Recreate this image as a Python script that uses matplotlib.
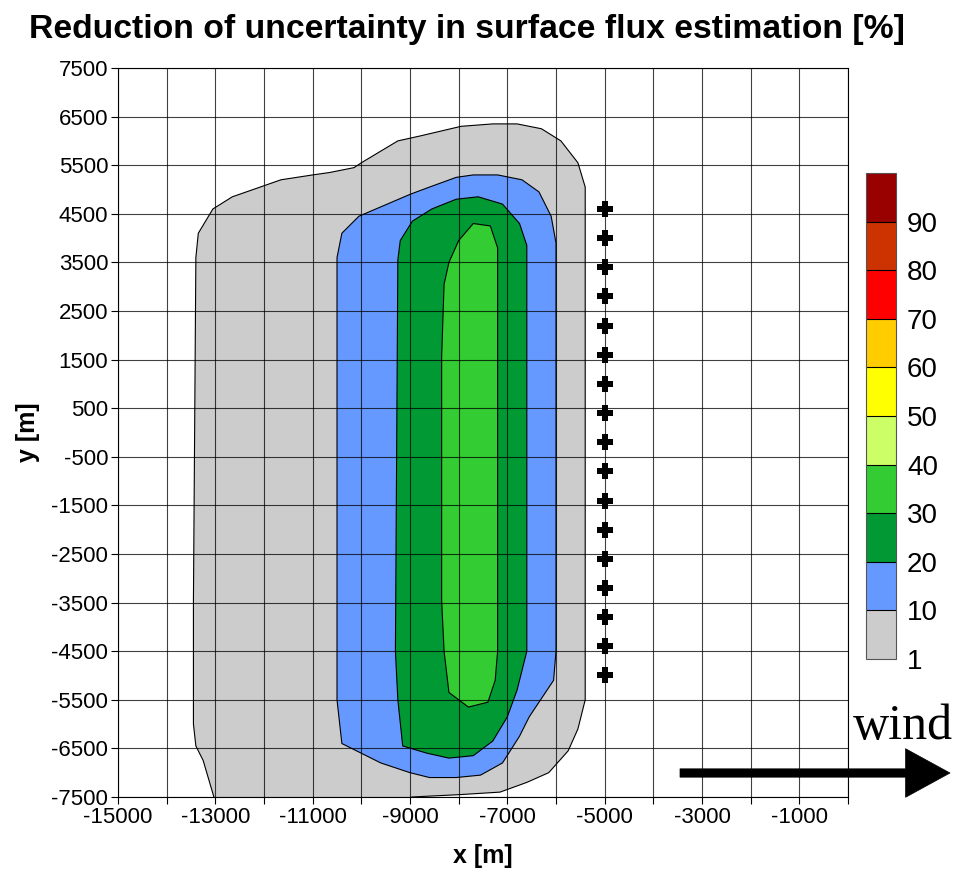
import matplotlib.pyplot as plt
from matplotlib.colors import ListedColormap, BoundaryNorm
import matplotlib.colorbar as mcolorbar

plt.rcParams['font.family'] = ['Liberation Sans', 'DejaVu Sans']
plt.rcParams['axes.unicode_minus'] = False

# contour outlines of the uncertainty reduction field [m]
gray_x = [-13400, -13350, -13050, -12650, -11650, -11000, -10650, -10150, -10000, -9750,
          -9250, -8800, -7950, -7300, -6800, -6300, -5900, -5550, -5400, -5400, -5400,
          -5550, -5750, -6150, -6600, -7150, -7950, -8950, -9500, -13000, -13250, -13400,
          -13450, -13450]
gray_y = [3600, 4100, 4600, 4850, 5200, 5300, 5350, 5450, 5550, 5700,
          6000, 6100, 6300, 6350, 6350, 6250, 6000, 5550, 5050, -3450, -5500,
          -6100, -6550, -7000, -7200, -7400, -7450, -7500, -7600, -7600, -6750, -6450,
          -6000, -3450]

blue_x = [-10500, -10400, -10050, -9000, -8600, -8050, -7700, -7200, -6700, -6350,
          -6100, -6000, -6000, -6000, -6050, -6550, -6750, -7100, -7550, -8050,
          -8600, -9000, -9600, -10400, -10500]
blue_y = [3600, 4100, 4450, 4900, 5050, 5250, 5300, 5300, 5200, 4950,
          4450, 3900, -3450, -4500, -5100, -5850, -6250, -6800, -7050, -7100,
          -7100, -7000, -6800, -6400, -5500]

dgreen_x = [-9250, -9200, -8950, -8550, -8050, -7600, -7100, -6750, -6600, -6600,
            -6600, -6800, -7000, -7300, -7700, -8200, -8650, -9150, -9250, -9300]
dgreen_y = [3550, 3950, 4350, 4600, 4800, 4850, 4700, 4300, 3850, -3450,
            -4500, -5300, -5850, -6350, -6650, -6700, -6600, -6450, -5500, -4500]

lgreen_x = [-8350, -8300, -8200, -8000, -7700, -7350, -7200, -7200, -7200, -7250,
            -7400, -7800, -8200, -8300, -8350]
lgreen_y = [1550, 3050, 3500, 3950, 4300, 4250, 3800, -3450, -4500, -5100,
            -5550, -5650, -5350, -4500, -3450]

# receptor positions
rec_x = [-5000] * 17
rec_y = [-5000, -4400, -3800, -3200, -2600, -2000, -1400, -800, -200,
         400, 1000, 1600, 2200, 2800, 3400, 4000, 4600]

levels = [1, 10, 20, 30, 40, 50, 60, 70, 80, 90, 100]
level_labels = ['1', '10', '20', '30', '40', '50', '60', '70', '80', '90', '']
colors = ['#cccccc', '#6699ff', '#009933', '#33cc33', '#ccff66',
          '#ffff00', '#ffcc00', '#ff0000', '#cc3300', '#990000']

xticks = list(range(-15000, 0, 2000))
yticks = list(range(-7500, 7501, 1000))

fig = plt.figure(figsize=(9.64, 8.82), dpi=100)
ax = fig.add_axes([0.1224, 0.0964, 0.7573, 0.8265])

for xs, ys, c in [(gray_x, gray_y, colors[0]), (blue_x, blue_y, colors[1]),
                  (dgreen_x, dgreen_y, colors[2]), (lgreen_x, lgreen_y, colors[3])]:
    ax.fill(xs, ys, facecolor=c, edgecolor='black', linewidth=0.8, zorder=1)

ax.set_xlim(-15000, 0)
ax.set_ylim(-7500, 7500)
ax.set_xticks(xticks)
ax.set_xticks(range(-15000, 1, 1000), minor=True)
ax.set_yticks(yticks)
ax.tick_params(which='both', direction='out', length=5, width=0.8, labelsize=16, pad=2)
ax.grid(True, which='both', color='black', linewidth=0.8, alpha=0.75, zorder=2)
ax.set_axisbelow(False)
for s in ax.spines.values():
    s.set_linewidth(0.8)

ax.plot(rec_x, rec_y, linestyle='none', marker='P', markersize=11,
        color='black', markeredgewidth=0, zorder=5)

ax.set_xlabel('x [m]', fontsize=18, fontweight='bold', labelpad=12)
ax.set_ylabel('y [m]', fontsize=18, fontweight='bold', labelpad=8)
fig.text(0.484, 0.966, 'Reduction of uncertainty in surface flux estimation [%]',
         fontsize=24.3, fontweight='bold', ha='center', va='center')

# colorbar
cax = fig.add_axes([866 / 964, 1 - 659 / 882, 30 / 964, 486 / 882])
cmap = ListedColormap(colors)
norm = BoundaryNorm(range(len(levels)), cmap.N)
cb = mcolorbar.ColorbarBase(cax, cmap=cmap, norm=norm, boundaries=range(len(levels)),
                            ticks=range(len(levels)), drawedges=True)
cb.set_ticklabels(level_labels)
cb.outline.set_edgecolor('#555555')
cb.dividers.set_linewidth(0.8)
cax.tick_params(length=0, labelsize=20, pad=8)

# wind arrow
fig.text(903 / 964, 1 - 727 / 882, 'wind', family=['Liberation Serif'],
         fontsize=36, ha='center', va='center')
ax.annotate('', xy=(950 / 964, 1 - 773 / 882), xycoords='figure fraction',
            xytext=(680 / 964, 1 - 773 / 882), textcoords='figure fraction',
            arrowprops=dict(width=6, headwidth=35, headlength=32,
                            facecolor='black', edgecolor='black', linewidth=0.5,
                            shrink=0),
            annotation_clip=False)

fig.savefig('out.png', dpi=100)
